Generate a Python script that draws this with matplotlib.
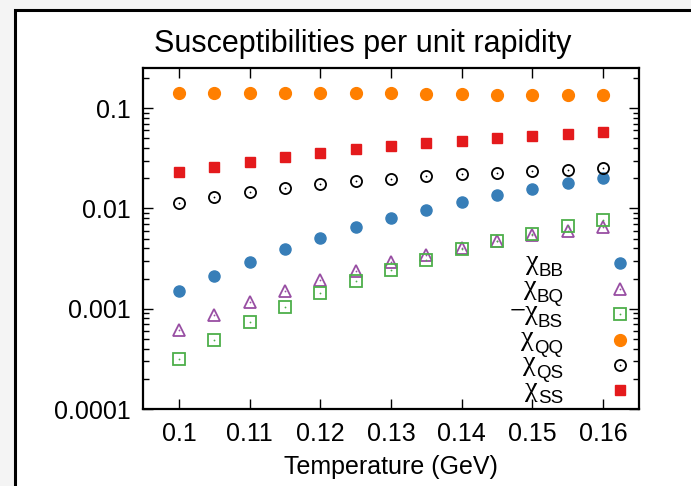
import numpy as np
import matplotlib
matplotlib.use('Agg')
import matplotlib.pyplot as plt
from matplotlib.patches import Rectangle
from matplotlib.font_manager import FontProperties
from matplotlib.textpath import TextPath
from matplotlib.ticker import FixedLocator, LogLocator, NullFormatter, NullLocator

# -----------------------------------------------------------------------------
# Data
# -----------------------------------------------------------------------------
temperature = [0.100, 0.105, 0.110, 0.115, 0.120, 0.125, 0.130,
               0.135, 0.140, 0.145, 0.150, 0.155, 0.160]

chi_bb = [0.00151, 0.00214, 0.00295, 0.00394, 0.00509, 0.00646, 0.0080,
          0.0097, 0.0115, 0.0136, 0.0156, 0.0178, 0.0201]
chi_bq = [0.000617, 0.000858, 0.00116, 0.00150, 0.00192, 0.00236, 0.00291,
          0.00344, 0.00401, 0.00468, 0.00537, 0.00593, 0.00656]
minus_chi_bs = [0.000316, 0.00049, 0.00073, 0.00104, 0.00142, 0.00189, 0.00244,
                0.00304, 0.00395, 0.00471, 0.00558, 0.00666, 0.00765]
chi_qq = [0.1413, 0.1413, 0.1413, 0.1413, 0.1413, 0.1402, 0.1402,
          0.1380, 0.1380, 0.1359, 0.1349, 0.1349, 0.1338]
chi_qs = [0.0114, 0.0130, 0.0145, 0.0160, 0.0174, 0.0186, 0.0198,
          0.0209, 0.0220, 0.0227, 0.0236, 0.0244, 0.0251]
chi_ss = [0.0231, 0.0261, 0.0293, 0.0326, 0.0355, 0.0389, 0.0417,
          0.0447, 0.0475, 0.0501, 0.0525, 0.0550, 0.0575]

# key labels: symbol part and subscript part
label_symbols = ['\u03c7', '\u03c7', '\u2212\u03c7', '\u03c7', '\u03c7', '\u03c7']
label_subscripts = ['BB', 'BQ', 'BS', 'QQ', 'QS', 'SS']

x_ticks = [0.10, 0.11, 0.12, 0.13, 0.14, 0.15, 0.16]
x_tick_labels = ['0.1', '0.11', '0.12', '0.13', '0.14', '0.15', '0.16']
y_ticks = [1e-4, 1e-3, 1e-2, 1e-1]
y_tick_labels = ['0.0001', '0.001', '0.01', '0.1']


def main():
    plt.rcParams['font.family'] = ['Liberation Sans', 'DejaVu Sans']

    fig = plt.figure(figsize=(6.91, 4.86), dpi=100)
    fig.patch.set_facecolor('#f4f4f4')

    # slide frame (only left and top edges visible)
    frame = Rectangle((14.5 / 691, -0.05), 1.1, 1.0 - 9.5 / 486 + 0.05,
                      transform=fig.transFigure, facecolor='white',
                      edgecolor='black', lw=2.2, zorder=-10)
    fig.add_artist(frame)

    ax = fig.add_axes([143 / 691, 1 - 409 / 486, 496 / 691, 341 / 486])
    ax.set_facecolor('white')

    # series styles: (data, color, marker, filled, size)
    series = [
        (chi_bb, '#377eb8', 'o', True, 8.0),
        (chi_bq, '#984ea3', '^', False, 8.5),
        (minus_chi_bs, '#4daf4a', 's', False, 8.0),
        (chi_qq, '#ff7f00', 'o', True, 8.5),
        (chi_qs, '#000000', 'o', False, 8.0),
        (chi_ss, '#e41a1c', 's', True, 7.5),
    ]

    for data, color, marker, filled, size in series:
        if filled:
            ax.plot(temperature, data, linestyle='none', marker=marker, ms=size,
                    color=color, mec=color, clip_on=False)
        else:
            ax.plot(temperature, data, linestyle='none', marker=marker, ms=size,
                    mfc='none', mec=color, mew=1.3, clip_on=False)
            ax.plot(temperature, data, linestyle='none', marker='o', ms=1.3,
                    color=color, mew=0)

    # gnuplot-style key: right-aligned labels, marker at the right
    key_x_marker = 0.9617
    key_x_label = 0.8468
    key_y0 = 0.427
    key_dy = 0.0745
    sub_size = 13.5
    sym_size = 20.5
    sub_font = FontProperties(family='Liberation Sans', size=sub_size)
    for i, (data, color, marker, filled, size) in enumerate(series):
        yk = key_y0 - i * key_dy
        if filled:
            ax.plot([key_x_marker], [yk], transform=ax.transAxes, linestyle='none',
                    marker=marker, ms=size, color=color, clip_on=False)
        else:
            ax.plot([key_x_marker], [yk], transform=ax.transAxes, linestyle='none',
                    marker=marker, ms=size, mfc='none', mec=color, mew=1.3,
                    clip_on=False)
            ax.plot([key_x_marker], [yk], transform=ax.transAxes, linestyle='none',
                    marker='o', ms=1.3, color=color, mew=0)

        sub = label_subscripts[i]
        sub_w = TextPath((0, 0), sub, size=sub_size, prop=sub_font).get_extents().width
        ax.annotate(sub, xy=(key_x_label, yk), xycoords='axes fraction',
                    xytext=(0, -9.4), textcoords='offset points',
                    ha='right', va='baseline', fontsize=sub_size,
                    family='Liberation Sans')
        ax.annotate(label_symbols[i], xy=(key_x_label, yk), xycoords='axes fraction',
                    xytext=(-sub_w - 1.5, -3.8), textcoords='offset points',
                    ha='right', va='baseline', fontsize=sym_size,
                    family=['Liberation Serif', 'DejaVu Serif'])

    ax.set_yscale('log')
    ax.set_xlim(0.0949, 0.1651)
    ax.set_ylim(1e-4, 0.251)

    ax.xaxis.set_major_locator(FixedLocator(x_ticks))
    ax.set_xticklabels(x_tick_labels)
    ax.xaxis.set_minor_locator(NullLocator())
    ax.yaxis.set_major_locator(FixedLocator(y_ticks))
    ax.set_yticklabels(y_tick_labels)
    ax.yaxis.set_minor_locator(LogLocator(base=10, subs=np.arange(2, 10), numticks=20))
    ax.yaxis.set_minor_formatter(NullFormatter())

    ax.tick_params(which='both', direction='in', top=True, right=True,
                   labelsize=18, colors='black', width=1.0, pad=9)
    ax.tick_params(which='major', length=7)
    ax.tick_params(which='minor', length=4)

    for spine in ax.spines.values():
        spine.set_linewidth(1.6)
        spine.set_color('black')

    ax.set_xlabel('Temperature (GeV)', fontsize=18, labelpad=7)
    fig.text(363 / 691, 1 - 44 / 486, 'Susceptibilities per unit rapidity',
             ha='center', va='center', fontsize=22)

    plt.savefig('out.png', dpi=100, facecolor=fig.get_facecolor())


if __name__ == '__main__':
    main()
